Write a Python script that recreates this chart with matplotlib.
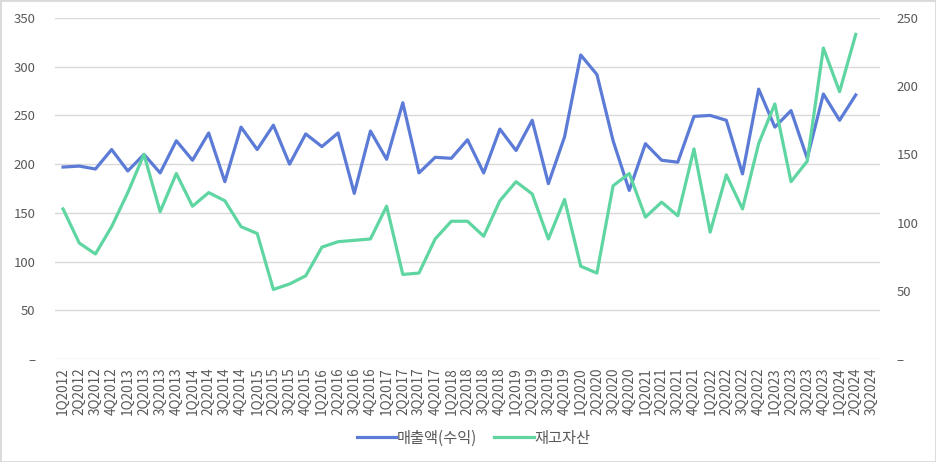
import numpy as np
import matplotlib
matplotlib.use('Agg')
import matplotlib.pyplot as plt
from matplotlib.patches import Rectangle

plt.rcParams['font.family'] = ['Noto Sans CJK KR', 'DejaVu Sans']

# 분기 라벨
quarters = [f'{q}Q{y}' for y in range(2012, 2025) for q in range(1, 5)][:51]

# 매출액(수익) - 왼쪽 축
revenue = [197, 198, 195, 215, 193, 210, 191, 224, 204, 232, 182, 238, 215, 240, 200, 231,
           218, 232, 170, 234, 205, 263, 191, 207, 206, 225, 191, 236, 214, 245, 180, 228,
           312, 292, 224, 173, 221, 204, 202, 249, 250, 245, 190, 277, 238, 255, 206, 272,
           245, 271]

# 재고자산 - 오른쪽 축
inventory = [110, 85, 77, 97, 122, 150, 108, 136, 112, 122, 116, 97, 92, 51, 55, 61,
             82, 86, 87, 88, 112, 62, 63, 88, 101, 101, 90, 116, 130, 121, 88, 117,
             68, 63, 127, 136, 104, 115, 105, 154, 93, 135, 110, 158, 187, 130, 145, 228,
             196, 238]

blue = '#5b7bd6'
green = '#5fd6a2'
grid_c = '#d9d9d9'
txt_c = '#595959'

fig = plt.figure(figsize=(9.36, 4.62), dpi=100)
ax = fig.add_axes([55/936, 1-359/462, 825/936, 341/462])
ax2 = ax.twinx()

x = np.arange(len(quarters))
l1, = ax.plot(x[:len(revenue)], revenue, color=blue, lw=2.3, label='매출액(수익)')
l2, = ax2.plot(x[:len(inventory)], inventory, color=green, lw=2.3, label='재고자산')

ax.set_xlim(-0.5, len(quarters) - 0.5)
ax.set_ylim(0, 350)
ax2.set_ylim(0, 250)
ax.set_yticks(range(0, 351, 50))
ax.set_yticklabels(['–'] + [str(v) for v in range(50, 351, 50)])
ax2.set_yticks(range(0, 251, 50))
ax2.set_yticklabels(['–'] + [str(v) for v in range(50, 251, 50)])
ax.set_xticks(x)
ax.set_xticklabels(quarters, rotation=90)

ax.grid(axis='y', color=grid_c, lw=1)
ax.set_axisbelow(True)
for a in (ax, ax2):
    for s in a.spines.values():
        s.set_visible(False)
    a.tick_params(length=0, colors=txt_c, labelsize=9.5)
ax.tick_params(axis='y', pad=14)
ax2.tick_params(axis='y', pad=12)
ax.tick_params(axis='x', pad=6, labelsize=9.8)

fig.legend(handles=[l1, l2], loc='center', bbox_to_anchor=(0.506, 1-438/462), ncol=2,
           frameon=False, fontsize=11, handlelength=2.6, handletextpad=0.05, columnspacing=1.1,
           labelcolor=txt_c)

fig.patches.append(Rectangle((0, 0), 1, 1, transform=fig.transFigure, fill=False,
                             edgecolor=grid_c, lw=2))

fig.savefig('out.png', dpi=100)
